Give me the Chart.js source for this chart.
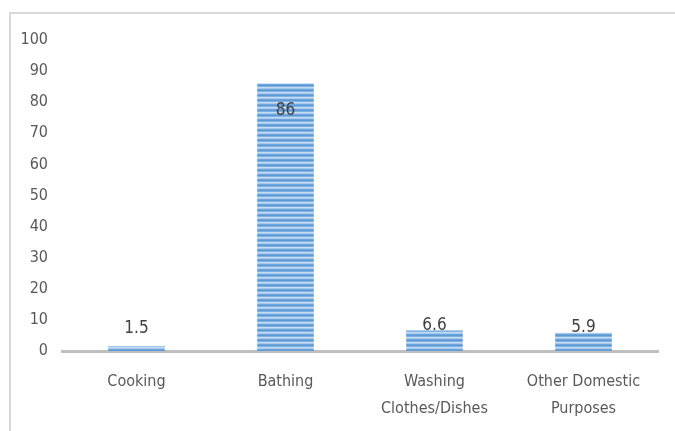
<!DOCTYPE html>
<html>
<head>
<meta charset="utf-8">
<script src="https://cdn.jsdelivr.net/npm/chart.js@4/dist/chart.umd.min.js"></script>
<style>
  html, body { margin: 0; padding: 0; background: #fff; }
  #frame { position: absolute; left: 9px; top: 12px; width: 680px; height: 440px; border: 2px solid #d9d9d9; box-sizing: border-box; }
  #wrap { position: absolute; left: 0; top: 0; width: 675px; height: 431px; }
</style>
</head>
<body>
<div id="frame"></div>
<div id="wrap"><canvas id="chart"></canvas></div>
<script>
// values
const categories = ['Cooking', 'Bathing', ['Washing', 'Clothes/Dishes'], ['Other Domestic', 'Purposes']];
const values = [1.5, 86, 6.6, 5.9];
const valueLabels = ['1.5', '86', '6.6', '5.9'];
const yTicks = [0, 10, 20, 30, 40, 50, 60, 70, 80, 90, 100];
// where each value label sits relative to its bar top (px)
const labelOffsets = [-18, 27, -5, -5];

const FONT = '"Liberation Sans Narrow", "DejaVu Sans Condensed", "Open Sans", sans-serif';
const TEXT = '#595959';

// striped fill like the excel bars
function stripePattern() {
    const c = document.createElement('canvas');
    c.width = 4; c.height = 5;
    const g = c.getContext('2d');
    const rows = ['#5b9bd5', '#7fb0e3', '#c6dcf3', '#a7c8ec', '#6ea5dc'];
    rows.forEach((col, i) => { g.fillStyle = col; g.fillRect(0, i, 4, 1); });
    return g.createPattern(c, 'repeat');
}

const valueLabelPlugin = {
    id: 'valueLabels',
    afterDatasetsDraw(chart) {
        const ctx = chart.ctx;
        const meta = chart.getDatasetMeta(0);
        ctx.save();
        ctx.font = '17px ' + FONT;
        ctx.fillStyle = '#404040';
        ctx.textAlign = 'center';
        ctx.textBaseline = 'middle';
        meta.data.forEach((bar, i) => {
            ctx.fillText(valueLabels[i], bar.x, bar.y + labelOffsets[i]);
        });
        ctx.restore();
    }
};

const ctx = document.getElementById('chart');
new Chart(ctx, {
    type: 'bar',
    data: {
        labels: categories,
        datasets: [{
            data: values,
            backgroundColor: stripePattern(),
            borderWidth: 0,
            categoryPercentage: 1,
            barPercentage: 0.38
        }]
    },
    options: {
        responsive: true, maintainAspectRatio: false, animation: false,
        layout: { padding: { top: 40, right: 17, left: 0, bottom: 0 } },
        plugins: { legend: { display: false }, tooltip: { enabled: false } },
        scales: {
            x: {
                grid: { display: false },
                border: { display: true, color: '#bfbfbf', width: 3 },
                ticks: { color: TEXT, font: { family: FONT, size: 16, lineHeight: 1.7 }, padding: 9, maxRotation: 0, autoSkip: false },
                afterFit: s => { s.height = 80; }
            },
            y: {
                min: 0, max: 100,
                grid: { display: false },
                border: { display: false },
                afterBuildTicks: s => { s.ticks = yTicks.map(v => ({ value: v })); },
                ticks: { color: TEXT, font: { family: FONT, size: 16 }, padding: 6 },
                afterFit: s => { s.width = 62; }
            }
        }
    },
    plugins: [valueLabelPlugin]
});
</script>
</body>
</html>
